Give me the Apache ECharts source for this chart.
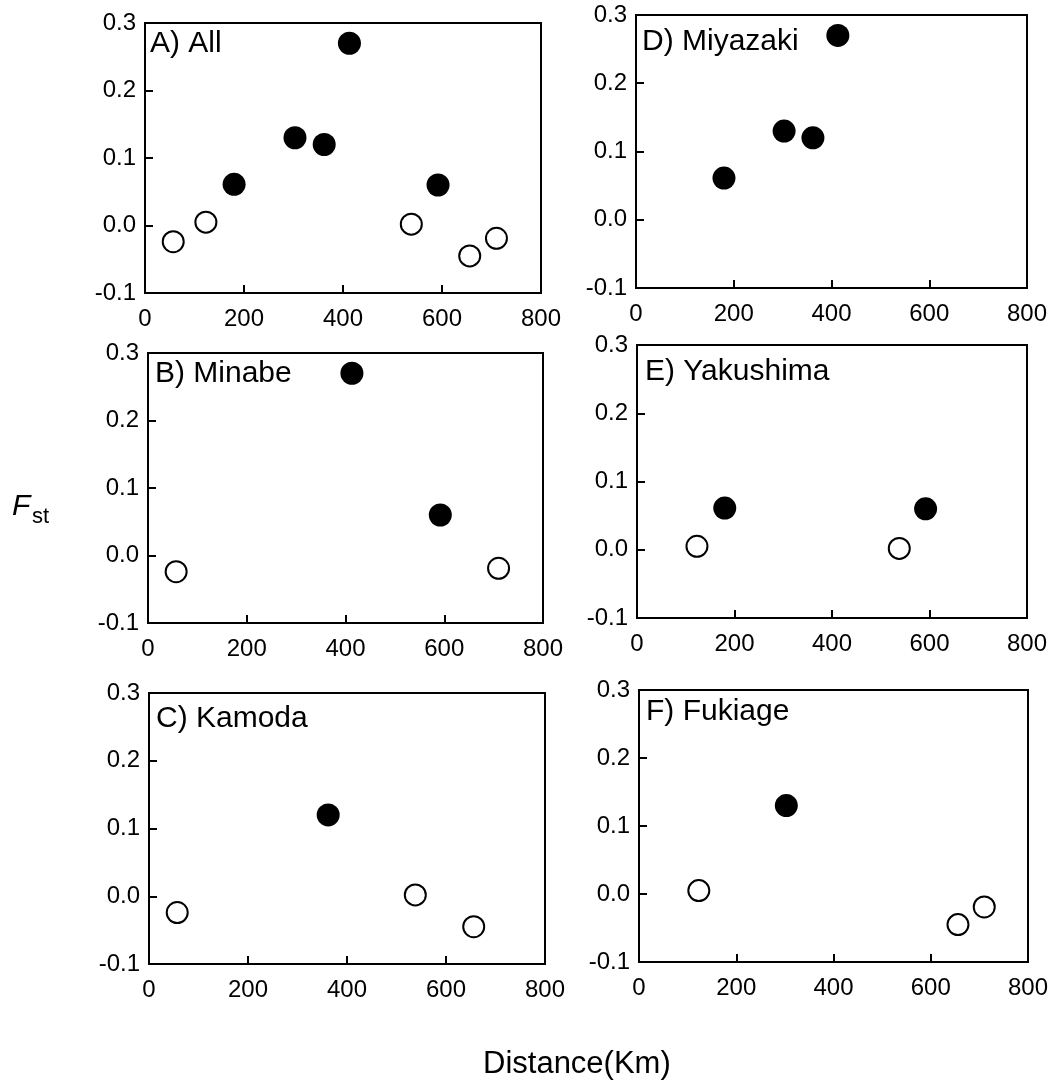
<!DOCTYPE html>
<html>
<head>
<meta charset="utf-8">
<script src="https://cdn.jsdelivr.net/npm/echarts@6/dist/echarts.min.js"></script>
<style>
  html, body { margin: 0; padding: 0; background: #fff; }
  #chart { width: 1059px; height: 1090px; }
</style>
</head>
<body>
<div id="chart"></div>
<script>
// panel names, in order A..F
const panelNames = ['A) All', 'B) Minabe', 'C) Kamoda', 'D) Miyazaki', 'E) Yakushima', 'F) Fukiage']

// [distance km, Fst] - open = not significant, filled = significant
const allOpen = [[57, -0.024], [123, 0.005], [538, 0.002], [656, -0.045], [710, -0.019]]
const allFilled = [[180, 0.061], [303, 0.13], [362, 0.12], [413, 0.27], [592, 0.06]]
const minabeOpen = [[57, -0.024], [710, -0.019]]
const minabeFilled = [[413, 0.27], [592, 0.06]]
const kamodaOpen = [[57, -0.024], [538, 0.002], [656, -0.045]]
const kamodaFilled = [[362, 0.12]]
const miyazakiOpen = []
const miyazakiFilled = [[180, 0.061], [303, 0.13], [362, 0.12], [413, 0.27]]
const yakushimaOpen = [[123, 0.005], [538, 0.002]]
const yakushimaFilled = [[180, 0.061], [592, 0.06]]
const fukiageOpen = [[123, 0.005], [656, -0.045], [710, -0.019]]
const fukiageFilled = [[303, 0.13]]

const xTicks = [0, 200, 400, 600, 800]
const yTicks = [-0.1, 0.0, 0.1, 0.2, 0.3]

const openSets = [allOpen, minabeOpen, kamodaOpen, miyazakiOpen, yakushimaOpen, fukiageOpen]
const filledSets = [allFilled, minabeFilled, kamodaFilled, miyazakiFilled, yakushimaFilled, fukiageFilled]

// plot boxes (px) and label positions
const boxes = [
  { left: 145, top: 23, width: 396, height: 270, lx: 150, ly: 29 },
  { left: 148, top: 353, width: 395, height: 270, lx: 155, ly: 359 },
  { left: 149, top: 693, width: 396, height: 271, lx: 156, ly: 704 },
  { left: 636, top: 15, width: 391, height: 273, lx: 642, ly: 27 },
  { left: 637, top: 345, width: 390, height: 273, lx: 645, ly: 357 },
  { left: 639, top: 690, width: 389, height: 272, lx: 646, ly: 697 }
]

const font = '"Liberation Sans", Arial, sans-serif'

const chart = echarts.init(document.getElementById('chart'))

const grid = boxes.map((b) => ({
  left: b.left, top: b.top, width: b.width, height: b.height,
  show: true, borderColor: '#000', borderWidth: 2, backgroundColor: 'transparent'
}))

const xAxis = boxes.map((b, i) => ({
  type: 'value', gridIndex: i,
  min: xTicks[0], max: xTicks[xTicks.length - 1], interval: xTicks[1] - xTicks[0],
  axisLine: { show: false, onZero: false },
  axisTick: { show: true, inside: true, length: 8, lineStyle: { color: '#000', width: 2 } },
  axisLabel: { color: '#000', fontSize: 24, fontFamily: font, margin: 14 },
  splitLine: { show: false }
}))

const yAxis = boxes.map((b, i) => ({
  type: 'value', gridIndex: i,
  min: yTicks[0], max: yTicks[yTicks.length - 1], interval: 0.1,
  axisLine: { show: false, onZero: false },
  axisTick: { show: true, inside: true, length: 8, lineStyle: { color: '#000', width: 2 } },
  axisLabel: { color: '#000', fontSize: 24, fontFamily: font, margin: 9,
    formatter: (v) => (Math.abs(v) < 1e-9 ? 0 : v).toFixed(1) },
  splitLine: { show: false }
}))

const series = []
boxes.forEach((b, i) => {
  series.push({
    type: 'scatter', xAxisIndex: i, yAxisIndex: i, data: openSets[i],
    symbol: 'circle', symbolSize: 21,
    itemStyle: { color: '#fff', borderColor: '#000', borderWidth: 2, opacity: 1 }
  })
  series.push({
    type: 'scatter', xAxisIndex: i, yAxisIndex: i, data: filledSets[i],
    symbol: 'circle', symbolSize: 23,
    itemStyle: { color: '#000', opacity: 1 }
  })
})

const title = boxes.map((b, i) => ({
  text: panelNames[i], left: b.lx, top: b.ly, padding: 0,
  textStyle: { fontSize: 30, fontWeight: 'normal', color: '#000', fontFamily: font }
}))

chart.setOption({
  animation: false,
  title,
  grid,
  xAxis,
  yAxis,
  series,
  graphic: [
    { type: 'text', left: 12, top: 492,
      style: { text: 'F', fontSize: 30, fontStyle: 'italic', fill: '#000', fontFamily: font } },
    { type: 'text', left: 32, top: 506,
      style: { text: 'st', fontSize: 22, fill: '#000', fontFamily: font } },
    { type: 'text', left: 483, top: 1049,
      style: { text: 'Distance(Km)', fontSize: 31, fill: '#000', fontFamily: font } }
  ]
})
</script>
</body>
</html>
